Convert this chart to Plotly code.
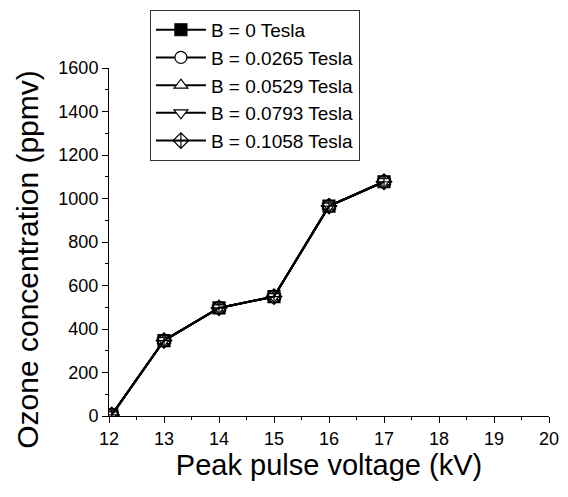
import plotly.graph_objects as go

voltage = [12.05, 13, 14, 15, 16, 17]
ozone_b0 = [5, 347, 497, 549, 965, 1077]
ozone_b1 = [5, 347, 497, 549, 965, 1077]
ozone_b2 = [5, 347, 497, 549, 965, 1077]
ozone_b3 = [5, 347, 497, 549, 965, 1077]
ozone_b4 = [5, 347, 497, 549, 965, 1077]
series_names = ["B = 0 Tesla", "B = 0.0265 Tesla", "B = 0.0529 Tesla",
                "B = 0.0793 Tesla", "B = 0.1058 Tesla"]
symbols = ["square", "circle", "triangle-up", "triangle-down", "diamond-cross-open"]
fills = ["black", "white", "white", "white", "black"]
x_ticks = [12, 13, 14, 15, 16, 17, 18, 19, 20]
y_ticks = [0, 200, 400, 600, 800, 1000, 1200, 1400, 1600]

fig = go.Figure()
for name, ys, sym, fc in zip(series_names, [ozone_b0, ozone_b1, ozone_b2, ozone_b3, ozone_b4], symbols, fills):
    fig.add_trace(go.Scatter(
        x=voltage, y=ys, mode="lines+markers", name=name,
        line=dict(color="black", width=2),
        marker=dict(symbol=sym, size=12, color=fc, line=dict(color="black", width=1.2)),
        cliponaxis=True,
    ))

font = "Liberation Sans, Arial, sans-serif"
fig.update_layout(
    width=560, height=489,
    margin=dict(l=101, r=19, t=60, b=81, autoexpand=False),
    paper_bgcolor="white", plot_bgcolor="white",
    font=dict(family=font, color="black"),
    showlegend=True,
    legend=dict(
        x=0.093, y=1.167, xanchor="left", yanchor="top",
        bgcolor="white", bordercolor="#333", borderwidth=1,
        font=dict(size=19, family=font), itemwidth=50,
        tracegroupgap=0,
    ),
    xaxis=dict(
        range=[12, 20], tickvals=x_ticks, ticktext=[str(v) for v in x_ticks],
        showgrid=False, zeroline=False, showline=True, linecolor="black", linewidth=1,
        ticks="outside", ticklen=6, tickcolor="black", tickwidth=1,
        minor=dict(ticks="outside", ticklen=3, dtick=0.5, tickcolor="black", showgrid=False),
        tickfont=dict(size=18),
        title=dict(text="Peak pulse voltage (kV)", font=dict(size=29), standoff=6),
    ),
    yaxis=dict(
        range=[0, 1600], tickvals=y_ticks, ticktext=[str(v) for v in y_ticks],
        showgrid=False, zeroline=False, showline=True, linecolor="black", linewidth=1,
        ticks="outside", ticklen=6, tickcolor="black", tickwidth=1,
        minor=dict(ticks="outside", ticklen=3, dtick=100, tickcolor="black", showgrid=False),
        tickfont=dict(size=18),
    ),
    annotations=[dict(
        text="Ozone concentration (ppmv)", xref="paper", yref="paper",
        x=-0.187, y=0.451, xanchor="center", yanchor="middle",
        textangle=-90, showarrow=False, font=dict(size=30),
    )],
)
fig.write_html("out.html")
